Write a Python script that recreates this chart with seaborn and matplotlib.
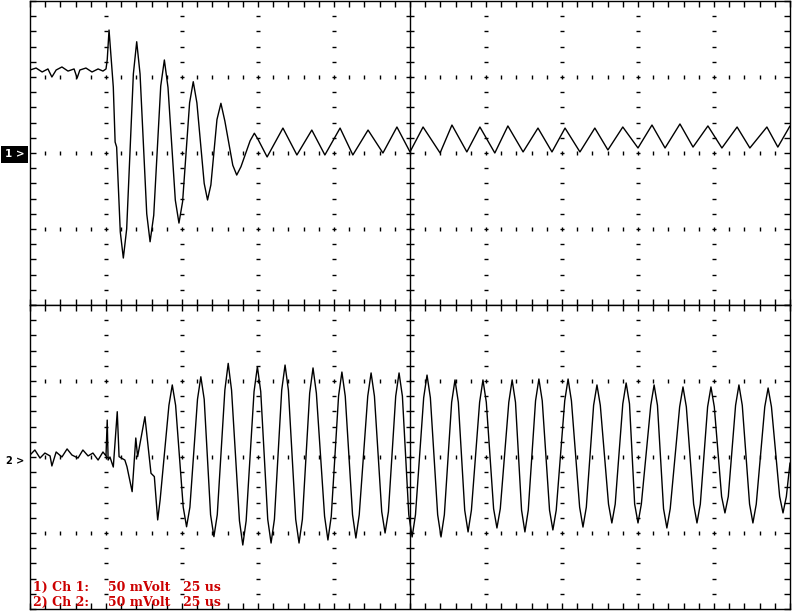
import numpy as np
import seaborn as sns
import matplotlib.pyplot as plt

# channel 1 (upper trace): time in us, level in mV
ch1_t = [0, 2.0, 4.0, 5.9, 7.2, 8.6, 10.5, 12.5, 14.5, 15.5, 16.4, 18.4, 20.4, 22.4, 24.0, 25.0,
         25.4, 26.0, 27.4, 28.0, 28.5, 29.7, 30.7, 31.8, 34.0, 35.1, 36.2, 38.4, 39.5, 40.7,
         43.0, 44.2, 45.4, 47.8, 49.0, 50.2, 52.5, 53.7, 54.9, 57.3, 58.4, 59.5,
         61.5, 62.8, 64.1, 66.7, 68.0, 69.4, 72.4, 73.8, 75.0,
         78.0, 83.2, 87.8, 92.7, 97.0, 102.0, 106.2, 111.2, 116.1, 120.7, 125.0,
         129.3, 134.9, 138.8, 143.7, 148.0, 152.9, 157.2, 162.2, 167.1, 171.7, 176.0, 180.9,
         185.8, 190.1, 195.0, 200.0, 204.6, 208.9, 213.8, 218.1, 223.0, 227.6, 232.6, 236.8,
         242.4, 246.0, 250.0]
ch1_mv = [54.6, 55.9, 53.3, 55.3, 50.0, 54.6, 56.6, 53.9, 55.3, 49.3, 54.6, 55.9, 53.3, 55.3, 53.9, 55.3,
          61.2, 80.9, 43.4, 7.2, 3.9, -52.0, -69.1, -50.0, 52.0, 73.2, 52.0, -40.0, -58.4, -41.0,
          44.0, 61.2, 43.0, -31.0, -46.1, -32.0, 33.0, 46.9, 33.0, -20.0, -30.9, -21.0,
          22.0, 32.7, 21.0, -8.0, -14.5, -9.0, 8.0, 13.0, 9.0,
          -2.6, 16.4, -1.3, 15.1, -1.3, 16.4, -1.3, 15.1, 0.0, 17.1, 0.7,
          17.1, 0.0, 18.4, 0.7, 17.1, 0.0, 17.8, 0.7, 16.4, 0.7, 16.4, 0.7,
          16.4, 2.0, 17.1, 3.3, 18.4, 3.3, 19.1, 3.9, 17.8, 3.3, 17.1, 3.3,
          17.1, 3.9, 17.8]

# channel 2 (lower trace)
ch2_t = [0, 1.6, 3.3, 4.9, 6.6, 7.2, 8.6, 10.5, 12.2, 13.8, 15.8, 17.4, 19.1, 20.7, 22.4, 24.0, 25.0,
         25.4, 25.7, 26.3, 27.4, 28.7, 29.3, 31.2, 31.9, 33.6, 34.8, 35.4, 37.8, 39.8, 40.9,
         42.0, 42.8,
         45.7, 46.8, 47.9, 50.4, 51.5, 52.6, 55.1, 56.2, 57.3, 59.4, 60.5, 61.6,
         64.1, 65.2, 66.3, 68.9, 70.0, 71.1, 73.7, 74.8, 75.9, 78.2, 79.3, 80.4,
         82.8, 83.9, 85.0, 87.4, 88.5, 89.6, 92.0, 93.1, 94.2, 96.9, 98.0, 99.1,
         101.5, 102.6, 103.7, 106.1, 107.2, 108.3, 111.1, 112.2, 113.3, 115.7, 116.8, 117.9,
         120.3, 121.4, 122.5, 124.6, 125.7, 126.8, 129.5, 130.6, 131.7, 134.1, 135.2, 136.3,
         138.7, 139.8, 140.9, 143.0, 144.1, 145.2, 147.9, 149.0, 150.1, 152.5, 153.6, 154.7,
         157.5, 158.6, 159.7, 161.7, 162.8, 163.9, 166.3, 167.4, 168.5, 170.9, 172.0, 173.1,
         175.9, 177.0, 178.1, 180.8, 181.9, 183.0, 185.4, 186.5, 187.6, 190.3, 191.4, 192.5,
         195.0, 196.1, 197.2, 198.9, 200.0, 201.1, 204.2, 205.3, 206.4, 208.4, 209.5, 210.6,
         213.7, 214.8, 215.9, 218.3, 219.4, 220.5, 222.9, 224.0, 225.1, 227.5, 228.6, 229.7,
         232.1, 233.2, 234.3, 236.7, 237.8, 238.9, 241.7, 242.8, 243.9, 246.6, 247.7, 248.8,
         250.0]
ch2_mv = [1.3, 4.6, -0.7, 2.6, 0.7, -5.9, 3.3, 0.0, 5.3, 1.3, -0.7, 4.6, 0.7, 2.6, -2.0, 3.3, 0.7,
          24.3, -2.0, 0.0, -6.6, 29.8, 0.2, -2.0, -6.4, -22.8, 12.5, 0.2, 26.5, -10.7, -12.9,
          -41.4, -28.3,
          34, 47.4, 34, -33, -45.9, -33, 38, 52.8, 38, -38, -52.4, -38,
          44, 61.6, 44, -42, -57.9, -42, 43, 59.4, 43, -41, -56.6, -41,
          44, 60.5, 44, -41, -56.6, -41, 42, 58.6, 42, -39, -54.6, -39,
          40, 55.9, 40, -38, -53.3, -38, 40, 55.3, 40, -36, -50.0, -36,
          40, 55.3, 40, -38, -52.6, -38, 39, 53.9, 39, -38, -52.6, -38,
          36, 50.7, 36, -35, -49.3, -35, 36, 50.7, 36, -34, -46.7, -34,
          36, 50.7, 36, -35, -49.3, -35, 37, 51.3, 37, -35, -48.0, -35,
          37, 51.3, 37, -33, -46.1, -33, 34, 47.4, 34, -31, -43.4, -31,
          35, 48.7, 35, -31, -43.4, -31, 34, 47.4, 34, -34, -46.7, -34,
          33, 46.1, 33, -31, -43.4, -31, 33, 46.1, 33, -26, -36.8, -26,
          34, 47.4, 34, -31, -43.4, -31, 33, 45.4, 33, -26, -36.8, -26,
          -3.9]

channel_tags = ["1 >", "2 >"]
scale_rows = [("1) Ch 1:", "50 mVolt", "25 us"),
              ("2) Ch 2:", "50 mVolt", "25 us")]

T_DIV = 25      # us per division
V_DIV = 50      # mV per division
N_X, N_Y = 10, 4

sns.set_theme(style="white")
plt.rcParams["font.family"] = ["DejaVu Sans"]

fig = plt.figure(figsize=(7.92, 6.12), dpi=100)
ax1 = fig.add_axes([30 / 792, (612 - 305) / 612, 760 / 792, 304 / 612])
ax2 = fig.add_axes([30 / 792, (612 - 609) / 612, 760 / 792, 304 / 612])

t_max = N_X * T_DIV
v_max = N_Y / 2 * V_DIV
x_minor = np.arange(0, t_max + 0.1, T_DIV / 5)
y_minor = np.arange(-v_max, v_max + 0.1, V_DIV / 5)

for ax in (ax1, ax2):
    ax.set_xlim(0, t_max)
    ax.set_ylim(-v_max, v_max)
    ax.set_xticks(x_minor)
    ax.set_yticks(y_minor)
    ax.tick_params(direction="in", length=4, width=1, color="black",
                   top=True, right=True, bottom=True, left=True,
                   labelbottom=False, labelleft=False)
    for s in ax.spines.values():
        s.set_color("black")
        s.set_linewidth(1)
    ax.set_facecolor("white")

    # dotted graticule
    inner_y = y_minor[1:-1]
    inner_x = x_minor[1:-1]
    for k in range(1, N_X):
        g = k * T_DIV
        if k == N_X // 2:
            ax.axvline(g, color="black", lw=1)
            ax.plot(np.full(len(inner_y), g), inner_y, ls="none", marker="_",
                    ms=6, mew=1, color="black")
        else:
            ax.plot(np.full(len(inner_y), g), inner_y, ls="none", marker="_",
                    ms=2.5, mew=1, color="black")
    for k in range(1, N_Y):
        g = -v_max + k * V_DIV
        ax.plot(inner_x, np.full(len(inner_x), g), ls="none", marker="|",
                ms=2.2, mew=1, color="black")

sns.lineplot(x=ch1_t, y=ch1_mv, ax=ax1, sort=False, estimator=None,
             color="black", lw=1.0)
sns.lineplot(x=ch2_t, y=ch2_mv, ax=ax2, sort=False, estimator=None,
             color="black", lw=1.0)

ax1.annotate(channel_tags[0], xy=(0, 0), xytext=(-4, -1), textcoords="offset points",
             ha="right", va="center", color="white", fontweight="bold", fontsize=7.5,
             bbox=dict(boxstyle="square,pad=0.35", fc="black", ec="none"),
             annotation_clip=False)
ax2.annotate(channel_tags[1], xy=(0, 0), xytext=(-4, -3), textcoords="offset points",
             ha="right", va="center", color="black", fontweight="bold", fontsize=7,
             annotation_clip=False)

red = "#cc0000"
col_x = [1.0, 25.7, 50.3]
row_y = [-88.2, -98.0]
for row, y in zip(scale_rows, row_y):
    for txt, x in zip(row, col_x):
        ax2.text(x, y, txt, color=red, fontsize=9, fontweight="bold",
                 family=["DejaVu Serif"], va="baseline", ha="left")

fig.savefig("out.png", dpi=100, facecolor="white")
